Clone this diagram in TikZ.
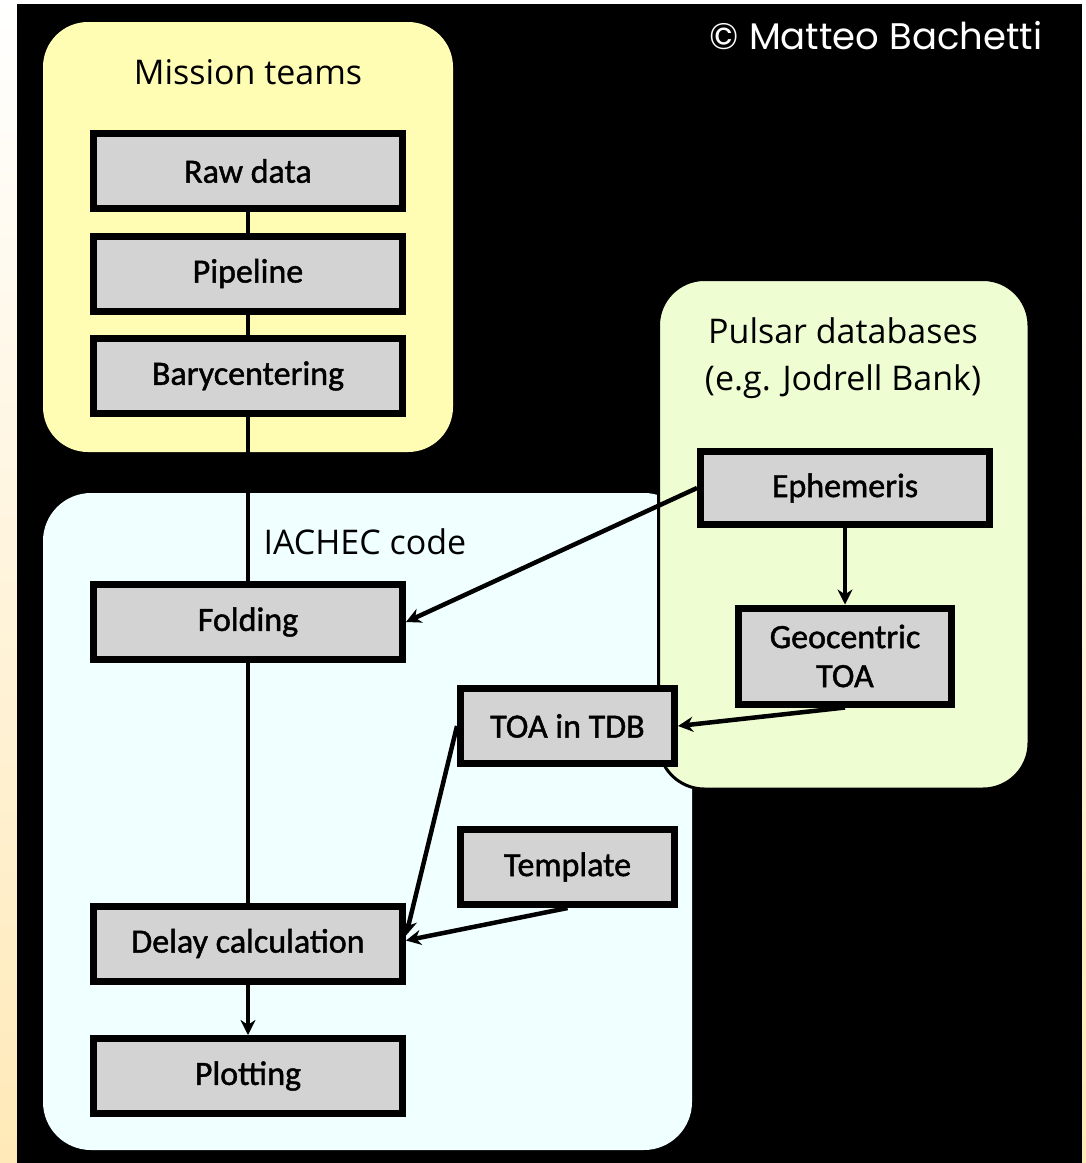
\documentclass[tikz,border=0pt]{standalone}
\usepackage{fontspec}
\setmainfont{Carlito}
\newfontfamily\labelfont{Carlito}[FakeBold=1.3]
\newfontfamily\titlefont{Open Sans}
\newfontfamily\signfont{Poppins}
\usetikzlibrary{positioning,arrows.meta}

\definecolor{boxgray}{HTML}{D3D3D3}
\definecolor{missionyellow}{HTML}{FFFDB4}
\definecolor{codecyan}{HTML}{F0FFFF}
\definecolor{pulsargreen}{HTML}{EFFDD2}
\definecolor{edgecream}{HTML}{FFE9B8}

\begin{document}
\begin{tikzpicture}[x=1pt, y=-1pt, node distance=102.5pt,
  step box/.style={draw, line width=7pt, fill=boxgray, minimum width=309pt, minimum height=75pt, inner sep=0pt, font=\labelfont\fontsize{34}{39}\selectfont},
  group title/.style={font=\titlefont\fontsize{34}{47}\selectfont, align=center},
  link/.style={line width=4.5pt},
  flow/.style={line width=4.5pt, -{Stealth[length=15pt,width=15pt]}}]

  % cream page edge behind the black sheet
  \shade[top color=white, bottom color=edgecream] (0,0) rectangle (1086,1163);
  \fill[black] (17,4) rectangle (1082,1163);
  \useasboundingbox (0,0) rectangle (1086,1163);

  % the three panels
  \fill[missionyellow, rounded corners=45pt] (43,22) rectangle (453,452);
  \fill[codecyan, rounded corners=48pt] (43,493) rectangle (692,1150);
  \filldraw[fill=pulsargreen, draw=black, line width=3pt, rounded corners=46pt] (658.5,279.5) rectangle (1029,789);

  \node[group title] (mission) at (248,72) {Mission teams};
  \node[group title] (pulsar) at (843,358) {Pulsar databases\\(e.g. Jodrell Bank)};
  \node[group title, anchor=west] (iachec) at (260,542) {IACHEC code};
  \node[text=white, font=\signfont\fontsize{37}{44}\selectfont] (credit) at (876,36) {© Matteo Bachetti};

  % steps
  \node[step box] (raw) at (248,171) {Raw data};
  \node[step box] (pipeline) [below of=raw] {Pipeline};
  \node[step box] (bary) [below of=pipeline] {Barycentering};
  \node[step box] (folding) at (248,622) {Folding};
  \node[step box] (delay) at (248,943.5) {Delay calculation};
  \node[step box] (plotting) [below of=delay, node distance=132.5pt] {Plotting};
  \node[step box, minimum width=289pt, minimum height=73pt] (ephem) at (845,488) {Ephemeris};
  \node[step box, minimum width=213pt, minimum height=96pt, align=center] (geo) [below of=ephem, node distance=168pt] {Geocentric\\TOA};
  \node[step box, minimum width=214pt] (toa) at (567.5,726) {TOA in TDB};
  \node[step box, minimum width=214pt] (template) [below of=toa, node distance=141pt] {Template};

  % connectors
  \draw[link] (raw) -- (pipeline);
  \draw[link] (pipeline) -- (bary);
  \draw[link] (bary) -- (folding);
  \draw[link] (folding) -- (delay);
  \draw[flow] (delay) -- (plotting);
  \draw[flow] (ephem.west) -- (folding.east);
  \draw[flow] (ephem) -- (geo);
  \draw[flow] (geo.south) -- (toa.east);
  \draw[flow] (toa.west) -- ([yshift=8pt]delay.east);
  \draw[flow] (template.south) -- ([yshift=3pt]delay.east);
\end{tikzpicture}
\end{document}
